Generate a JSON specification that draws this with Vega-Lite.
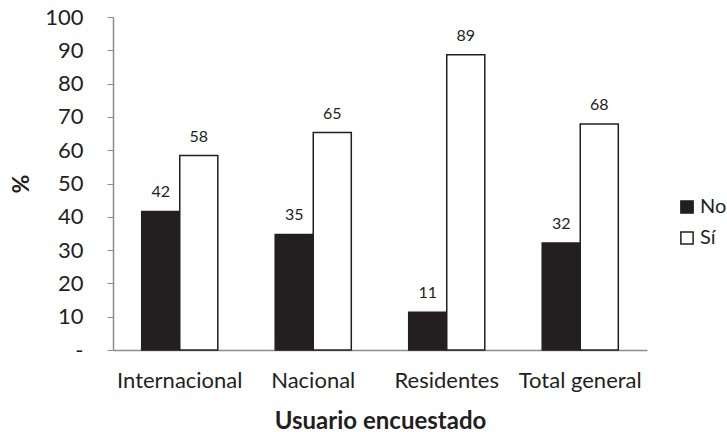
{
  "$schema": "https://vega.github.io/schema/vega-lite/v6.json",
  "autosize": "none",
  "width": 534,
  "height": 333,
  "padding": {"left": 113, "top": 17, "right": 80, "bottom": 82},
  "background": "white",
  "config": {
    "view": {"stroke": null},
    "font": "Lato",
    "text": {"font": "Lato"}
  },
  "data": {
    "values": [
      {"usuario": "Internacional", "resp": "No", "valor": 41.6},
      {"usuario": "Internacional", "resp": "Sí", "valor": 58.4},
      {"usuario": "Nacional", "resp": "No", "valor": 34.7},
      {"usuario": "Nacional", "resp": "Sí", "valor": 65.3},
      {"usuario": "Residentes", "resp": "No", "valor": 11.3},
      {"usuario": "Residentes", "resp": "Sí", "valor": 88.7},
      {"usuario": "Total general", "resp": "No", "valor": 32.1},
      {"usuario": "Total general", "resp": "Sí", "valor": 67.9}
    ]
  },
  "encoding": {
    "x": {
      "field": "usuario", "type": "nominal", "sort": null,
      "scale": {"paddingInner": 0.43, "paddingOuter": 0.215},
      "axis": {
        "title": "Usuario encuestado", "titleFont": "Lato", "titleFontSize": 24, "titleFontWeight": "bold",
        "titleColor": "#231f20", "titlePadding": 18,
        "labelFont": "Lato", "labelFontSize": 22, "labelColor": "#231f20", "labelAngle": 0, "labelPadding": 20,
        "ticks": false, "domainColor": "#8c8c8c", "domainWidth": 1.5
      }
    },
    "xOffset": {"field": "resp", "type": "nominal", "sort": ["No", "Sí"]},
    "y": {
      "field": "valor", "type": "quantitative",
      "scale": {"domain": [0, 100], "nice": false},
      "axis": {
        "title": "%", "titleFont": "Lato", "titleFontSize": 23, "titleFontWeight": "bold", "titleColor": "#231f20",
        "titlePadding": 11,
        "values": [0, 10, 20, 30, 40, 50, 60, 70, 80, 90, 100],
        "labelExpr": "datum.value == 0 ? '-' : datum.label",
        "labelFont": "Lato", "labelFontSize": 22, "labelColor": "#231f20", "labelPadding": 24,
        "tickSize": 6, "tickColor": "#8c8c8c", "domainColor": "#8c8c8c", "domainWidth": 1.5,
        "grid": false
      }
    }
  },
  "layer": [
    {
      "mark": {"type": "bar", "stroke": "#231f20", "strokeWidth": 1.5},
      "encoding": {
        "fill": {
          "field": "resp", "type": "nominal",
          "scale": {"domain": ["No", "Sí"], "range": ["#231f20", "#ffffff"]},
          "legend": {
            "title": null, "orient": "none", "legendX": 564, "legendY": 180,
            "symbolType": "square", "symbolSize": 150, "symbolStrokeColor": "#231f20", "symbolStrokeWidth": 1.5,
            "labelFont": "Lato", "labelFontSize": 20, "labelColor": "#231f20", "rowPadding": 11, "labelOffset": 3
          }
        }
      }
    },
    {
      "mark": {"type": "text", "dy": -19, "fontSize": 16, "color": "#231f20", "font": "Lato"},
      "encoding": {
        "text": {"field": "valor", "type": "quantitative", "format": ".0f"}
      }
    }
  ]
}
